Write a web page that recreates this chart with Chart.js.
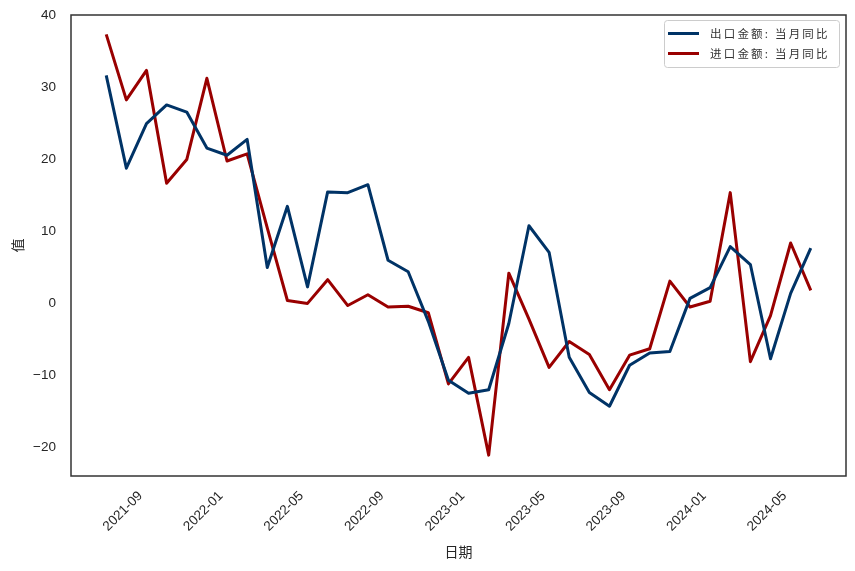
<!DOCTYPE html>
<html>
<head>
<meta charset="utf-8">
<script src="https://cdn.jsdelivr.net/npm/chart.js@4.4.1/dist/chart.umd.min.js"></script>
<style>
html, body { margin: 0; padding: 0; background: #fff; }
#wrap { width: 855px; height: 571px; }
</style>
</head>
<body>
<div id="wrap"><canvas id="myChart" width="855" height="571"></canvas></div>
<script>
// canvas
const canvas = document.getElementById('myChart')
const ctx = canvas.getContext('2d')

// months of the series
const dates = [
    '2021-07', '2021-08', '2021-09', '2021-10', '2021-11', '2021-12',
    '2022-01', '2022-02', '2022-03', '2022-04', '2022-05', '2022-06',
    '2022-07', '2022-08', '2022-09', '2022-10', '2022-11', '2022-12',
    '2023-01', '2023-02', '2023-03', '2023-04', '2023-05', '2023-06',
    '2023-07', '2023-08', '2023-09', '2023-10', '2023-11', '2023-12',
    '2024-01', '2024-02', '2024-03', '2024-04', '2024-05', '2024-06'
]

// 出口金额: 当月同比
const exportYoY = [
    31.7, 18.8, 25.0, 27.6, 26.6, 21.6,
    20.6, 22.8, 5.0, 13.5, 2.3, 15.5,
    15.4, 16.5, 6.0, 4.4, -2.5, -10.7,
    -12.5, -12.0, -2.8, 10.8, 7.1, -7.5,
    -12.4, -14.3, -8.6, -6.9, -6.7, 0.7,
    2.2, 7.9, 5.4, -7.7, 1.4, 7.7
]

// 进口金额: 当月同比
const importYoY = [
    37.4, 28.3, 32.4, 16.7, 20.0, 31.3,
    19.8, 20.8, 10.5, 0.4, 0.0, 3.3,
    -0.3, 1.2, -0.5, -0.4, -1.3, -11.2,
    -7.5, -21.1, 4.2, -2.2, -8.9, -5.3,
    -7.1, -12.0, -7.2, -6.3, 3.1, -0.5,
    0.3, 15.4, -8.1, -1.7, 8.4, 1.8
]

const seriesNames = ['出口金额: 当月同比', '进口金额: 当月同比']
const seriesColors = ['#003366', '#990000']

// tick labels
const xTickLabels = ['2021-09', '2022-01', '2022-05', '2022-09', '2023-01', '2023-05', '2023-09', '2024-01', '2024-05']
const yTickValues = [-20, -10, 0, 10, 20, 30, 40]

const textColor = '#262626'

// 'YYYY-MM' -> month number counted from 2021-01
function monthIndex(s) {
    let p = s.split('-')
    return (+p[0] - 2021) * 12 + (+p[1] - 1)
}

function points(values) {
    return dates.map((d, i) => ({ x: monthIndex(d), y: values[i] }))
}

// frame around the plot and the legend box
const framePlugin = {
    id: 'frame',
    afterDraw(chart) {
        const c = chart.ctx
        const a = chart.chartArea
        c.save()
        c.strokeStyle = '#333333'
        c.lineWidth = 1.5
        c.strokeRect(a.left, a.top, a.right - a.left, a.bottom - a.top)

        // legend
        const bx = 664, by = 20, bw = 175, bh = 47
        c.beginPath()
        c.roundRect(bx + 0.5, by + 0.5, bw, bh, 3)
        c.fillStyle = 'rgba(255,255,255,0.8)'
        c.fill()
        c.strokeStyle = '#cccccc'
        c.lineWidth = 1
        c.stroke()

        chart.data.datasets.forEach((ds, i) => {
            const y = by + 13.5 + i * 20
            c.beginPath()
            c.moveTo(bx + 4, y)
            c.lineTo(bx + 35, y)
            c.strokeStyle = ds.borderColor
            c.lineWidth = 3
            c.stroke()
            c.fillStyle = '#333333'
            c.font = '11.5px "Noto Sans CJK SC"'
            c.letterSpacing = '2.2px'
            c.textBaseline = 'middle'
            c.textAlign = 'left'
            c.fillText(ds.label, bx + 46, y)
        })
        c.restore()
    }
}

const data = {
    datasets: [
        {
            label: seriesNames[0],
            data: points(exportYoY),
            borderColor: seriesColors[0],
            borderWidth: 3,
            pointRadius: 0,
            tension: 0,
            borderJoinStyle: 'round'
        },
        {
            label: seriesNames[1],
            data: points(importYoY),
            borderColor: seriesColors[1],
            borderWidth: 3,
            pointRadius: 0,
            tension: 0,
            borderJoinStyle: 'round'
        }
    ]
}

const myLineChart = new Chart(ctx, {
    type: 'line',
    data: data,
    options: {
        responsive: false,
        animation: false,
        devicePixelRatio: 1,
        layout: { padding: { top: 15, right: 9, left: 0, bottom: 0 } },
        plugins: {
            legend: { display: false },
            tooltip: { enabled: false }
        },
        scales: {
            x: {
                type: 'linear',
                min: 4.25,
                max: 42.75,
                afterBuildTicks: s => { s.ticks = xTickLabels.map(l => ({ value: monthIndex(l) })) },
                afterFit: s => { s.height = 95; s.paddingLeft = 0; s.paddingRight = 0 },
                grid: { display: false },
                border: { display: false },
                ticks: {
                    autoSkip: false,
                    minRotation: 45,
                    maxRotation: 45,
                    padding: 4,
                    labelOffset: -6,
                    color: textColor,
                    font: { family: '"Liberation Sans", Arial', size: 13.5 },
                    callback: (v, i) => xTickLabels[i]
                },
                title: {
                    display: true,
                    text: '日期',
                    color: textColor,
                    font: { family: '"Noto Sans CJK SC"', size: 14 },
                    padding: { top: 0, bottom: 10.5 }
                }
            },
            y: {
                min: -24,
                max: 40.1,
                afterBuildTicks: s => { s.ticks = yTickValues.map(v => ({ value: v })) },
                afterFit: s => { s.width = 71; s.paddingTop = 0; s.paddingBottom = 0 },
                grid: { display: false },
                border: { display: false },
                ticks: {
                    padding: 7,
                    color: textColor,
                    font: { family: '"Liberation Sans", Arial', size: 13.5 },
                    callback: v => v < 0 ? '\u2212' + Math.abs(v) : String(v)
                },
                title: {
                    display: true,
                    text: '值',
                    color: textColor,
                    font: { family: '"Noto Sans CJK SC"', size: 14 },
                    padding: { top: 9.5, bottom: 0 }
                }
            }
        }
    },
    plugins: [framePlugin]
})
</script>
</body>
</html>
